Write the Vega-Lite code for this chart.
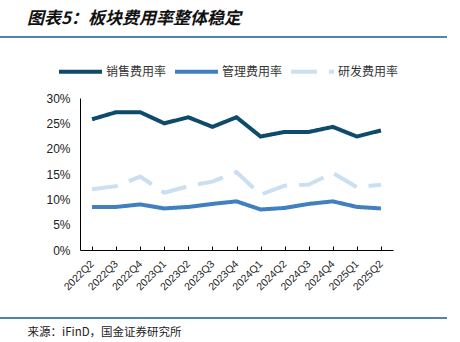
{
  "$schema": "https://vega.github.io/schema/vega-lite/v6.json",
  "autosize": {"type": "none"},
  "width": 447,
  "height": 281,
  "padding": {"left": 0, "top": 37, "right": 13, "bottom": 24},
  "background": "white",
  "title": {
    "text": "图表5：板块费用率整体稳定",
    "anchor": "start",
    "frame": "group",
    "dx": 27,
    "offset": 8,
    "font": "Noto Sans CJK SC",
    "fontSize": 17,
    "fontWeight": "bold",
    "fontStyle": "italic",
    "color": "#111111"
  },
  "config": {
    "view": {"stroke": null},
    "font": "Liberation Sans"
  },
  "datasets": {
    "rates": [
      {"q": "2022Q2", "s": "销售费用率", "v": 25.8},
      {"q": "2022Q3", "s": "销售费用率", "v": 27.2},
      {"q": "2022Q4", "s": "销售费用率", "v": 27.2},
      {"q": "2023Q1", "s": "销售费用率", "v": 25.0},
      {"q": "2023Q2", "s": "销售费用率", "v": 26.2},
      {"q": "2023Q3", "s": "销售费用率", "v": 24.3},
      {"q": "2023Q4", "s": "销售费用率", "v": 26.2},
      {"q": "2024Q1", "s": "销售费用率", "v": 22.4},
      {"q": "2024Q2", "s": "销售费用率", "v": 23.3},
      {"q": "2024Q3", "s": "销售费用率", "v": 23.3},
      {"q": "2024Q4", "s": "销售费用率", "v": 24.3},
      {"q": "2025Q1", "s": "销售费用率", "v": 22.4},
      {"q": "2025Q2", "s": "销售费用率", "v": 23.6},
      {"q": "2022Q2", "s": "管理费用率", "v": 8.5},
      {"q": "2022Q3", "s": "管理费用率", "v": 8.5},
      {"q": "2022Q4", "s": "管理费用率", "v": 9.0},
      {"q": "2023Q1", "s": "管理费用率", "v": 8.2},
      {"q": "2023Q2", "s": "管理费用率", "v": 8.5},
      {"q": "2023Q3", "s": "管理费用率", "v": 9.1},
      {"q": "2023Q4", "s": "管理费用率", "v": 9.6},
      {"q": "2024Q1", "s": "管理费用率", "v": 8.0},
      {"q": "2024Q2", "s": "管理费用率", "v": 8.3},
      {"q": "2024Q3", "s": "管理费用率", "v": 9.1},
      {"q": "2024Q4", "s": "管理费用率", "v": 9.6},
      {"q": "2025Q1", "s": "管理费用率", "v": 8.5},
      {"q": "2025Q2", "s": "管理费用率", "v": 8.2},
      {"q": "2022Q2", "s": "研发费用率", "v": 12.0},
      {"q": "2022Q3", "s": "研发费用率", "v": 12.6},
      {"q": "2022Q4", "s": "研发费用率", "v": 14.5},
      {"q": "2023Q1", "s": "研发费用率", "v": 11.3},
      {"q": "2023Q2", "s": "研发费用率", "v": 12.6},
      {"q": "2023Q3", "s": "研发费用率", "v": 13.5},
      {"q": "2023Q4", "s": "研发费用率", "v": 15.4},
      {"q": "2024Q1", "s": "研发费用率", "v": 10.9},
      {"q": "2024Q2", "s": "研发费用率", "v": 12.7},
      {"q": "2024Q3", "s": "研发费用率", "v": 12.9},
      {"q": "2024Q4", "s": "研发费用率", "v": 15.2},
      {"q": "2025Q1", "s": "研发费用率", "v": 12.4},
      {"q": "2025Q2", "s": "研发费用率", "v": 12.9}
    ],
    "separators": [
      {"p": "header"},
      {"p": "footer"}
    ]
  },
  "layer": [
    {
      "data": {"name": "separators"},
      "mark": {"type": "rule", "color": "#4f86a8", "strokeWidth": 2},
      "encoding": {
        "y": {
          "field": "p",
          "type": "nominal",
          "scale": {"type": "point", "padding": 0, "domain": ["header", "footer"]},
          "axis": null
        }
      }
    },
    {
      "data": {"name": "rates"},
      "mark": {"type": "line", "strokeWidth": 4, "strokeCap": "butt", "strokeJoin": "miter"},
      "encoding": {
        "x": {
          "field": "q",
          "type": "ordinal",
          "sort": null,
          "scale": {"type": "point", "range": [80, 393]},
          "axis": {
            "title": "来源：iFinD，国金证券研究所",
            "titleFont": "Noto Sans CJK SC",
            "titleFontSize": 11.5,
            "titleFontWeight": "normal",
            "titleColor": "#222222",
            "titleX": 27,
            "titleY": 82,
            "titleAlign": "left",
            "titleBaseline": "middle",
            "titleAnchor": "start",
            "offset": -68,
            "domainColor": "#000000",
            "domainWidth": 1,
            "tickColor": "#000000",
            "tickSize": -4,
            "tickWidth": 1,
            "labelAngle": -45,
            "labelAlign": "right",
            "labelBaseline": "middle",
            "labelPadding": 16,
            "labelOffset": 0,
            "labelFontSize": 10.5,
            "labelColor": "#222222",
            "labelFont": "Liberation Sans"
          }
        },
        "y": {
          "field": "v",
          "type": "quantitative",
          "scale": {"domain": [0, 30], "range": [213, 61], "nice": false},
          "axis": {
            "title": null,
            "offset": -80,
            "values": [0, 5, 10, 15, 20, 25, 30],
            "labelExpr": "datum.value + '%'",
            "grid": false,
            "ticks": false,
            "labelPadding": 10,
            "domainColor": "#000000",
            "domainWidth": 1,
            "labelFontSize": 12,
            "labelColor": "#222222",
            "labelFont": "Liberation Sans"
          }
        },
        "color": {
          "field": "s",
          "type": "nominal",
          "scale": {
            "domain": ["销售费用率", "管理费用率", "研发费用率"],
            "range": ["#0d4a6b", "#4080c0", "#cadff2"]
          },
          "legend": {
            "title": null,
            "orient": "none",
            "legendX": 57,
            "legendY": 11,
            "direction": "horizontal",
            "symbolType": "stroke",
            "symbolSize": 1849,
            "symbolStrokeWidth": 4,
            "labelFont": "Noto Sans CJK SC",
            "labelFontSize": 12,
            "labelColor": "#333333",
            "labelOffset": 2,
            "columnPadding": 0
          }
        },
        "strokeDash": {
          "field": "s",
          "type": "nominal",
          "scale": {
            "domain": ["销售费用率", "管理费用率", "研发费用率"],
            "range": [[1, 0], [1, 0], [26, 12]]
          },
          "legend": null
        }
      }
    }
  ],
  "resolve": {"scale": {"y": "independent"}}
}
